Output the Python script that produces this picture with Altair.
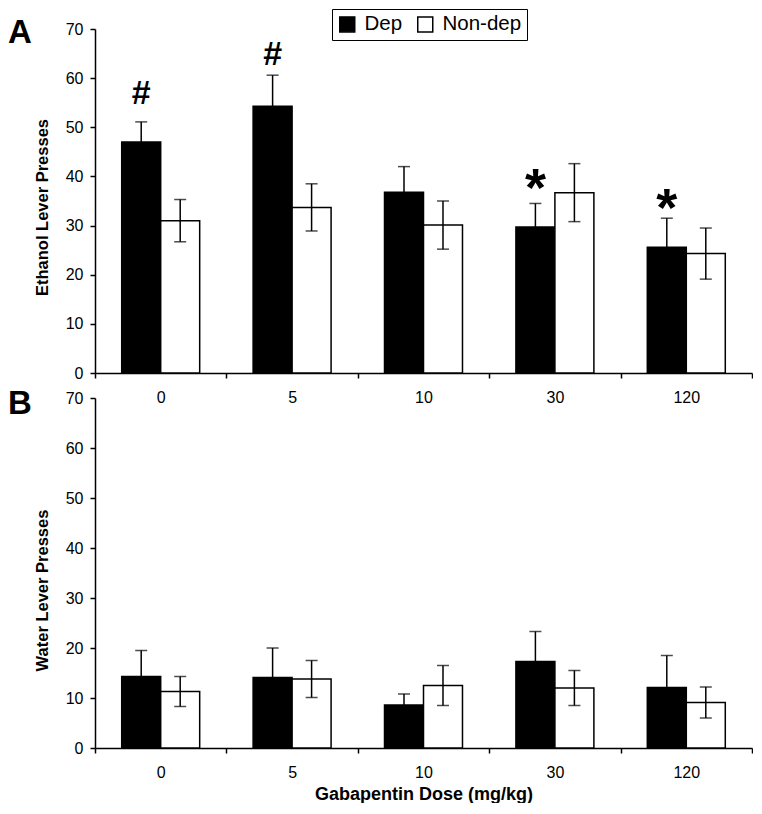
import altair as alt
import pandas as pd

# ---- data ----
doses = ["0", "5", "10", "30", "120"]
groups = ["Dep", "Non-dep"]

eth_dep = [47.0, 54.3, 36.8, 29.7, 25.6]
eth_dep_se = [4.1, 6.3, 5.2, 4.8, 5.9]
eth_non = [31.0, 33.7, 30.1, 36.7, 24.3]
eth_non_se = [4.3, 4.8, 4.9, 5.9, 5.2]

wat_dep = [14.3, 14.1, 8.6, 17.3, 12.1]
wat_dep_se = [5.2, 5.9, 2.2, 6.0, 6.4]
wat_non = [11.3, 13.8, 12.5, 12.0, 9.1]
wat_non_se = [3.0, 3.7, 4.0, 3.5, 3.1]

sig_marks = ["#", "#", "", "*", "*"]
sig_y = [57.0, 65.0, 0.0, 40.0, 36.0]

FONT = "Liberation Sans"
W = 657


def make_df(dep, dep_se, non, non_se):
    rows = []
    for i, d in enumerate(doses):
        rows.append({"dose": d, "group": "Dep", "value": dep[i],
                     "lo": dep[i] - dep_se[i], "hi": dep[i] + dep_se[i]})
        rows.append({"dose": d, "group": "Non-dep", "value": non[i],
                     "lo": non[i] - non_se[i], "hi": non[i] + non_se[i]})
    return pd.DataFrame(rows)


eth_df = make_df(eth_dep, eth_dep_se, eth_non, eth_non_se)
wat_df = make_df(wat_dep, wat_dep_se, wat_non, wat_non_se)
sig_df = pd.DataFrame({"dose": doses, "group": ["Dep"] * 5, "mark": sig_marks, "y": sig_y})
sig_df = sig_df[sig_df["mark"] != ""]


def panel(df, ytitle, title_y, height, letter, letter_y, legend, xtitle, with_sig):
    x_axis = alt.Axis(
        labelAngle=0, labelFont=FONT, labelFontSize=16, labelColor="black",
        labelPadding=11, tickSize=5, tickColor="black", tickWidth=1.5,
        domainColor="black", domainWidth=1.5, tickBand="extent", grid=False,
        title=xtitle if xtitle else None,
        titleFont=FONT, titleFontSize=18, titleFontWeight="bold", titleColor="black",
        titleY=37,
    )
    xsc = alt.Scale(paddingInner=0, paddingOuter=0)
    x = alt.X("dose:N", sort=doses, scale=xsc, axis=x_axis)
    xo = alt.XOffset("group:N", sort=groups,
                     scale=alt.Scale(domain=groups, paddingOuter=0.685, paddingInner=0))
    y_scale = alt.Scale(domain=[0, 70], nice=False)
    y_axis = alt.Axis(
        values=list(range(0, 71, 10)), labelFont=FONT, labelFontSize=16, labelColor="black",
        labelPadding=7, tickSize=5, tickColor="black", tickWidth=1.5,
        domainColor="black", domainWidth=1.5, grid=False,
        title=ytitle, titleFont=FONT, titleFontSize=16.5, titleFontWeight="bold",
        titleColor="black", titleX=-45, titleY=title_y,
    )
    fill_kwargs = {}
    if legend:
        fill_kwargs["legend"] = alt.Legend(
            title=None, orient="none", legendX=237, legendY=-20, direction="horizontal",
            symbolType="square", symbolSize=225, symbolStrokeColor="black",
            symbolStrokeWidth=1.5, labelFont=FONT, labelFontSize=20.5, labelColor="black",
            labelOffset=7, columnPadding=11, padding=5, strokeColor="black",
            fillColor="white", symbolOpacity=1,
        )
    else:
        fill_kwargs["legend"] = None

    base = alt.Chart(df)
    bars = base.mark_bar(stroke="black", strokeWidth=1.5).encode(
        x=x, xOffset=xo,
        y=alt.Y("value:Q", scale=y_scale, axis=y_axis),
        fill=alt.Fill("group:N", scale=alt.Scale(domain=groups, range=["black", "white"]), **fill_kwargs),
    )
    rules = base.mark_rule(color="black", strokeWidth=1.5).encode(
        x=x, xOffset=xo, y=alt.Y("lo:Q", scale=y_scale, axis=y_axis), y2="hi:Q")
    cap_hi = base.mark_tick(color="black", size=12, thickness=1.5).encode(
        x=x, xOffset=xo, y=alt.Y("hi:Q", scale=y_scale, axis=y_axis))
    cap_lo = base.mark_tick(color="black", size=12, thickness=1.5).encode(
        x=x, xOffset=xo, y=alt.Y("lo:Q", scale=y_scale, axis=y_axis))
    letter_txt = alt.Chart(pd.DataFrame({"t": [letter]})).mark_text(
        font=FONT, fontSize=33, fontWeight="bold", align="left", baseline="alphabetic",
        color="black").encode(x=alt.value(-87), y=alt.value(letter_y), text="t:N")
    layers = [bars, rules, cap_hi, cap_lo, letter_txt]
    if with_sig:
        hash_txt = alt.Chart(sig_df[sig_df["mark"] == "#"]).mark_text(
            font=FONT, fontSize=34, fontWeight="bold", baseline="middle", color="black",
            dy=1).encode(x=x, xOffset=xo, y=alt.Y("y:Q", scale=y_scale, axis=y_axis),
                         text="mark:N")
        star_txt = alt.Chart(sig_df[sig_df["mark"] == "*"]).mark_text(
            font=FONT, fontSize=54, fontWeight="bold", baseline="middle", color="black",
            dy=14).encode(x=x, xOffset=xo, y=alt.Y("y:Q", scale=y_scale, axis=y_axis),
                          text="mark:N")
        layers += [hash_txt, star_txt]
    return alt.layer(*layers).properties(width=W, height=height)


top = panel(eth_df, "Ethanol Lever Presses", 178, 344, "A", 14, True, None, True)
bottom = panel(wat_df, "Water Lever Presses", 192, 350, "B", 16, False,
               "Gabapentin Dose (mg/kg)", False)

chart = alt.VConcatChart(vconcat=[top, bottom], spacing=25, bounds="flush").resolve_scale(
    fill="independent").resolve_legend(fill="independent").properties(
    padding=0, background="white").configure_view(stroke="transparent", strokeWidth=0)

chart.save("out.html", embed_options={"renderer": "svg", "actions": False})
